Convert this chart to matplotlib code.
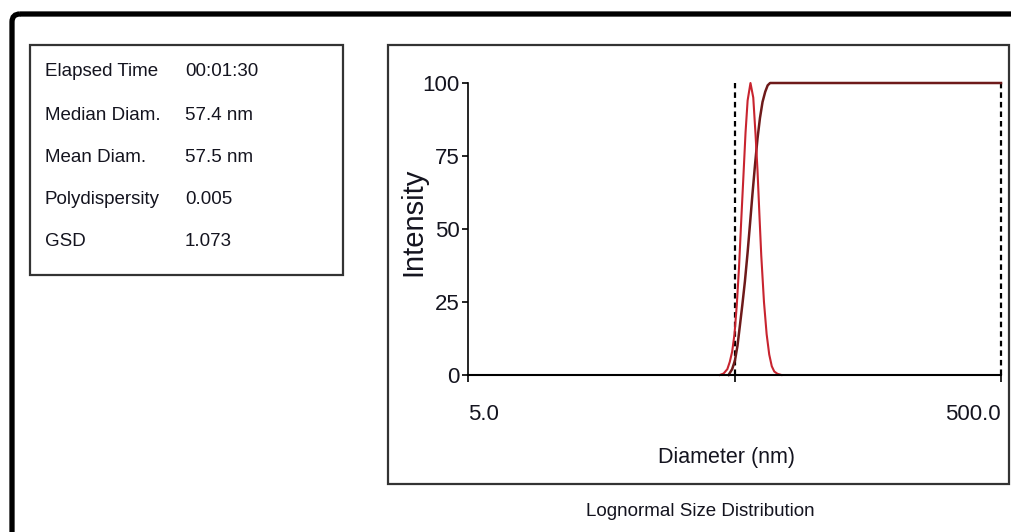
import matplotlib
matplotlib.use("Agg")
import matplotlib.pyplot as plt
from matplotlib.patches import Rectangle, FancyBboxPatch
from matplotlib.ticker import NullLocator

W, H = 1011, 532

# summary table
info_labels = ["Elapsed Time", "Median Diam.", "Mean Diam.", "Polydispersity", "GSD"]
info_values = ["00:01:30", "57.4 nm", "57.5 nm", "0.005", "1.073"]

# intensity distribution
bell_diam = [44.0, 45.5, 47.0, 48.0, 49.0, 50.0, 51.0, 52.0, 53.0, 54.0, 55.0, 56.0, 57.4,
             58.8, 60.0, 61.0, 62.0, 63.0, 64.5, 66.0, 67.5, 69.0, 70.5, 72.5, 75.0]
bell_int = [0, 0.5, 2, 4.5, 8, 14, 24, 37, 53, 68, 83, 94, 100,
            95, 82, 70, 55, 41, 25, 14, 7, 3, 1.2, 0.4, 0]

# cumulative curve
cum_diam = [47.5, 49.0, 50.2, 51.3, 52.4, 53.5, 54.7, 56.0, 57.2, 58.4, 59.7, 61.0,
            62.3, 63.7, 65.2, 66.6, 68.0, 500.0]
cum_int = [0, 2, 5, 10, 17, 24, 32, 42, 52, 62, 72, 81, 88, 93.5, 97, 99.2, 100, 100]

marker_diam = [50.0, 500.0]
ytick_vals = [0, 25, 50, 75, 100]
xtick_vals = [5.0, 50.0, 500.0]
xtick_labels = ["5.0", "", "500.0"]

font = ["Liberation Sans", "DejaVu Sans"]
ink = "#14141f"

fig = plt.figure(figsize=(W / 100, H / 100), dpi=100)

# background layer in pixel coordinates
bg = fig.add_axes([0, 0, 1, 1])
bg.set_xlim(0, W)
bg.set_ylim(H, 0)
bg.axis("off")

bg.add_patch(FancyBboxPatch((12, 14), 1100, 600, boxstyle="round,pad=0,rounding_size=8",
                            lw=3.8, ec="black", fc="none"))
bg.add_patch(Rectangle((30, 45), 313, 230, lw=1.6, ec="#333333", fc="none"))
bg.add_patch(Rectangle((388, 45), 621, 439, lw=1.6, ec="#333333", fc="none"))

row_y = [71, 115, 158, 200, 241]
for lab, val, y in zip(info_labels, info_values, row_y):
    bg.text(45, y, lab, family=font, fontsize=13.5, va="center", ha="left", color=ink)
    bg.text(185, y, val, family=font, fontsize=13.5, va="center", ha="left", color=ink)

bg.text(413, 222, "Intensity", family=font, fontsize=21, rotation=90,
        va="center", ha="center", color=ink)
bg.text(727, 458, "Diameter (nm)", family=font, fontsize=15.5, va="center", ha="center",
        color=ink)
bg.text(700, 512, "Lognormal Size Distribution", family=font, fontsize=13.5,
        va="center", ha="center", color=ink)

# main plot
ax = fig.add_axes([468 / W, 1 - 375 / H, (1001 - 468) / W, (375 - 83) / H])
ax.patch.set_alpha(0)
ax.set_xscale("log")
ax.set_xlim(5, 500)
ax.set_ylim(0, 100)
ax.spines["top"].set_visible(False)
ax.spines["right"].set_visible(False)
ax.spines["left"].set_linewidth(1.2)
ax.spines["bottom"].set_linewidth(1.5)

ax.vlines(marker_diam, 0, 100, colors="black", linestyles=(0, (2.5, 1.8)), lw=1.6,
          clip_on=False)
ax.plot(cum_diam, cum_int, color="#6e1a1a", lw=1.8, clip_on=False)
ax.plot(bell_diam, bell_int, color="#c8242f", lw=1.5, clip_on=False)

ax.set_xticks(xtick_vals)
ax.set_xticklabels(xtick_labels)
ax.xaxis.set_minor_locator(NullLocator())
ax.set_yticks(ytick_vals)
ax.tick_params(axis="x", length=5, width=1.2, pad=16, labelsize=16)
ax.tick_params(axis="y", length=4, width=1.2, pad=2, labelsize=16)
for t in ax.get_xticklabels() + ax.get_yticklabels():
    t.set_family(font)
    t.set_color(ink)
xl = ax.get_xticklabels()
xl[0].set_ha("left")
xl[-1].set_ha("right")

plt.savefig("out.png", dpi=100)
